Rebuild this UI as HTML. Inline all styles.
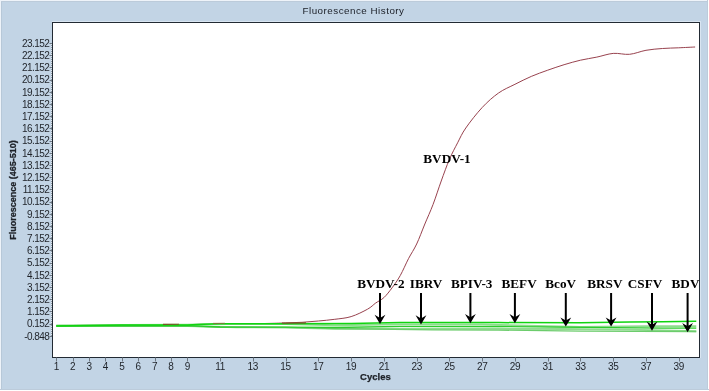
<!DOCTYPE html>
<html><head><meta charset="utf-8"><style>
html,body{margin:0;padding:0;background:#c2d4e5;}
body{width:709px;height:391px;overflow:hidden;}
svg{display:block;will-change:transform;}
text{font-family:"Liberation Sans",sans-serif;}
.ser{font-family:"Liberation Serif",serif;font-weight:bold;}
</style></head><body>
<svg width="709" height="391" viewBox="0 0 709 391">
<rect x="0" y="0" width="709" height="391" fill="#c2d4e5"/>
<rect x="0" y="0" width="709" height="1" fill="#eef3f9"/>
<rect x="0" y="0" width="1" height="391" fill="#eef3f9"/>
<rect x="1" y="1" width="1" height="388" fill="#b7c8d8"/>
<rect x="1" y="1" width="706" height="1" fill="#bccbda"/>
<rect x="707" y="0" width="1" height="391" fill="#bccbda"/>
<rect x="708" y="0" width="1" height="391" fill="#ffffff"/>
<rect x="0" y="389" width="709" height="1" fill="#bccbda"/>
<rect x="0" y="390" width="709" height="1" fill="#ffffff"/>
<text x="353.5" y="14.3" font-size="9.8" letter-spacing="0.5" text-anchor="middle" fill="#1a1e26">Fluorescence History</text>
<rect x="52" y="21" width="649" height="1" fill="#d9e5f1"/>
<rect x="700" y="21" width="1" height="337" fill="#d9e5f1"/>
<rect x="52.5" y="22.5" width="647" height="335" fill="#ffffff" stroke="#222a33" stroke-width="1"/>
<line x1="51.5" y1="43" x2="51.5" y2="336" stroke="#dfe7ef" stroke-width="1"/>
<line x1="51.5" y1="43" x2="51.5" y2="336" stroke="#8d99a5" stroke-width="1" stroke-dasharray="1 1"/>
<text x="49.3" y="46.70" font-size="10" letter-spacing="-0.55" text-anchor="end" fill="#1e2228">23.152</text>
<line x1="49.5" y1="43.5" x2="52" y2="43.5" stroke="#6d7782" stroke-width="1"/>
<text x="49.3" y="58.90" font-size="10" letter-spacing="-0.55" text-anchor="end" fill="#1e2228">22.152</text>
<line x1="49.5" y1="55.5" x2="52" y2="55.5" stroke="#6d7782" stroke-width="1"/>
<text x="49.3" y="71.10" font-size="10" letter-spacing="-0.55" text-anchor="end" fill="#1e2228">21.152</text>
<line x1="49.5" y1="67.5" x2="52" y2="67.5" stroke="#6d7782" stroke-width="1"/>
<text x="49.3" y="83.30" font-size="10" letter-spacing="-0.55" text-anchor="end" fill="#1e2228">20.152</text>
<line x1="49.5" y1="80.5" x2="52" y2="80.5" stroke="#6d7782" stroke-width="1"/>
<text x="49.3" y="95.50" font-size="10" letter-spacing="-0.55" text-anchor="end" fill="#1e2228">19.152</text>
<line x1="49.5" y1="92.5" x2="52" y2="92.5" stroke="#6d7782" stroke-width="1"/>
<text x="49.3" y="107.70" font-size="10" letter-spacing="-0.55" text-anchor="end" fill="#1e2228">18.152</text>
<line x1="49.5" y1="104.5" x2="52" y2="104.5" stroke="#6d7782" stroke-width="1"/>
<text x="49.3" y="119.90" font-size="10" letter-spacing="-0.55" text-anchor="end" fill="#1e2228">17.152</text>
<line x1="49.5" y1="116.5" x2="52" y2="116.5" stroke="#6d7782" stroke-width="1"/>
<text x="49.3" y="132.10" font-size="10" letter-spacing="-0.55" text-anchor="end" fill="#1e2228">16.152</text>
<line x1="49.5" y1="128.5" x2="52" y2="128.5" stroke="#6d7782" stroke-width="1"/>
<text x="49.3" y="144.30" font-size="10" letter-spacing="-0.55" text-anchor="end" fill="#1e2228">15.152</text>
<line x1="49.5" y1="141.5" x2="52" y2="141.5" stroke="#6d7782" stroke-width="1"/>
<text x="49.3" y="156.50" font-size="10" letter-spacing="-0.55" text-anchor="end" fill="#1e2228">14.152</text>
<line x1="49.5" y1="153.5" x2="52" y2="153.5" stroke="#6d7782" stroke-width="1"/>
<text x="49.3" y="168.70" font-size="10" letter-spacing="-0.55" text-anchor="end" fill="#1e2228">13.152</text>
<line x1="49.5" y1="165.5" x2="52" y2="165.5" stroke="#6d7782" stroke-width="1"/>
<text x="49.3" y="180.90" font-size="10" letter-spacing="-0.55" text-anchor="end" fill="#1e2228">12.152</text>
<line x1="49.5" y1="177.5" x2="52" y2="177.5" stroke="#6d7782" stroke-width="1"/>
<text x="49.3" y="193.10" font-size="10" letter-spacing="-0.55" text-anchor="end" fill="#1e2228">11.152</text>
<line x1="49.5" y1="189.5" x2="52" y2="189.5" stroke="#6d7782" stroke-width="1"/>
<text x="49.3" y="205.30" font-size="10" letter-spacing="-0.55" text-anchor="end" fill="#1e2228">10.152</text>
<line x1="49.5" y1="202.5" x2="52" y2="202.5" stroke="#6d7782" stroke-width="1"/>
<text x="49.3" y="217.50" font-size="10" letter-spacing="-0.55" text-anchor="end" fill="#1e2228">9.152</text>
<line x1="49.5" y1="214.5" x2="52" y2="214.5" stroke="#6d7782" stroke-width="1"/>
<text x="49.3" y="229.70" font-size="10" letter-spacing="-0.55" text-anchor="end" fill="#1e2228">8.152</text>
<line x1="49.5" y1="226.5" x2="52" y2="226.5" stroke="#6d7782" stroke-width="1"/>
<text x="49.3" y="241.90" font-size="10" letter-spacing="-0.55" text-anchor="end" fill="#1e2228">7.152</text>
<line x1="49.5" y1="238.5" x2="52" y2="238.5" stroke="#6d7782" stroke-width="1"/>
<text x="49.3" y="254.10" font-size="10" letter-spacing="-0.55" text-anchor="end" fill="#1e2228">6.152</text>
<line x1="49.5" y1="250.5" x2="52" y2="250.5" stroke="#6d7782" stroke-width="1"/>
<text x="49.3" y="266.30" font-size="10" letter-spacing="-0.55" text-anchor="end" fill="#1e2228">5.152</text>
<line x1="49.5" y1="263.5" x2="52" y2="263.5" stroke="#6d7782" stroke-width="1"/>
<text x="49.3" y="278.50" font-size="10" letter-spacing="-0.55" text-anchor="end" fill="#1e2228">4.152</text>
<line x1="49.5" y1="275.5" x2="52" y2="275.5" stroke="#6d7782" stroke-width="1"/>
<text x="49.3" y="290.70" font-size="10" letter-spacing="-0.55" text-anchor="end" fill="#1e2228">3.152</text>
<line x1="49.5" y1="287.5" x2="52" y2="287.5" stroke="#6d7782" stroke-width="1"/>
<text x="49.3" y="302.90" font-size="10" letter-spacing="-0.55" text-anchor="end" fill="#1e2228">2.152</text>
<line x1="49.5" y1="299.5" x2="52" y2="299.5" stroke="#6d7782" stroke-width="1"/>
<text x="49.3" y="315.10" font-size="10" letter-spacing="-0.55" text-anchor="end" fill="#1e2228">1.152</text>
<line x1="49.5" y1="311.5" x2="52" y2="311.5" stroke="#6d7782" stroke-width="1"/>
<text x="49.3" y="327.30" font-size="10" letter-spacing="-0.55" text-anchor="end" fill="#1e2228">0.152</text>
<line x1="49.5" y1="324.5" x2="52" y2="324.5" stroke="#6d7782" stroke-width="1"/>
<text x="49.3" y="339.50" font-size="10" letter-spacing="-0.55" text-anchor="end" fill="#1e2228">-0.848</text>
<line x1="49.5" y1="336.5" x2="52" y2="336.5" stroke="#6d7782" stroke-width="1"/>
<line x1="56.5" y1="357.5" x2="56.5" y2="361.5" stroke="#6d7782" stroke-width="1"/>
<text x="56.30" y="369.6" font-size="10" letter-spacing="-0.3" text-anchor="middle" fill="#1e2228">1</text>
<line x1="73.5" y1="357.5" x2="73.5" y2="361.5" stroke="#6d7782" stroke-width="1"/>
<text x="72.68" y="369.6" font-size="10" letter-spacing="-0.3" text-anchor="middle" fill="#1e2228">2</text>
<line x1="89.5" y1="357.5" x2="89.5" y2="361.5" stroke="#6d7782" stroke-width="1"/>
<text x="89.06" y="369.6" font-size="10" letter-spacing="-0.3" text-anchor="middle" fill="#1e2228">3</text>
<line x1="105.5" y1="357.5" x2="105.5" y2="361.5" stroke="#6d7782" stroke-width="1"/>
<text x="105.44" y="369.6" font-size="10" letter-spacing="-0.3" text-anchor="middle" fill="#1e2228">4</text>
<line x1="122.5" y1="357.5" x2="122.5" y2="361.5" stroke="#6d7782" stroke-width="1"/>
<text x="121.82" y="369.6" font-size="10" letter-spacing="-0.3" text-anchor="middle" fill="#1e2228">5</text>
<line x1="138.5" y1="357.5" x2="138.5" y2="361.5" stroke="#6d7782" stroke-width="1"/>
<text x="138.20" y="369.6" font-size="10" letter-spacing="-0.3" text-anchor="middle" fill="#1e2228">6</text>
<line x1="155.5" y1="357.5" x2="155.5" y2="361.5" stroke="#6d7782" stroke-width="1"/>
<text x="154.58" y="369.6" font-size="10" letter-spacing="-0.3" text-anchor="middle" fill="#1e2228">7</text>
<line x1="171.5" y1="357.5" x2="171.5" y2="361.5" stroke="#6d7782" stroke-width="1"/>
<text x="170.96" y="369.6" font-size="10" letter-spacing="-0.3" text-anchor="middle" fill="#1e2228">8</text>
<line x1="187.5" y1="357.5" x2="187.5" y2="361.5" stroke="#6d7782" stroke-width="1"/>
<text x="187.34" y="369.6" font-size="10" letter-spacing="-0.3" text-anchor="middle" fill="#1e2228">9</text>
<line x1="220.5" y1="357.5" x2="220.5" y2="361.5" stroke="#6d7782" stroke-width="1"/>
<text x="220.10" y="369.6" font-size="10" letter-spacing="-0.3" text-anchor="middle" fill="#1e2228">11</text>
<line x1="253.5" y1="357.5" x2="253.5" y2="361.5" stroke="#6d7782" stroke-width="1"/>
<text x="252.86" y="369.6" font-size="10" letter-spacing="-0.3" text-anchor="middle" fill="#1e2228">13</text>
<line x1="286.5" y1="357.5" x2="286.5" y2="361.5" stroke="#6d7782" stroke-width="1"/>
<text x="285.62" y="369.6" font-size="10" letter-spacing="-0.3" text-anchor="middle" fill="#1e2228">15</text>
<line x1="318.5" y1="357.5" x2="318.5" y2="361.5" stroke="#6d7782" stroke-width="1"/>
<text x="318.38" y="369.6" font-size="10" letter-spacing="-0.3" text-anchor="middle" fill="#1e2228">17</text>
<line x1="351.5" y1="357.5" x2="351.5" y2="361.5" stroke="#6d7782" stroke-width="1"/>
<text x="351.14" y="369.6" font-size="10" letter-spacing="-0.3" text-anchor="middle" fill="#1e2228">19</text>
<line x1="384.5" y1="357.5" x2="384.5" y2="361.5" stroke="#6d7782" stroke-width="1"/>
<text x="383.90" y="369.6" font-size="10" letter-spacing="-0.3" text-anchor="middle" fill="#1e2228">21</text>
<line x1="417.5" y1="357.5" x2="417.5" y2="361.5" stroke="#6d7782" stroke-width="1"/>
<text x="416.66" y="369.6" font-size="10" letter-spacing="-0.3" text-anchor="middle" fill="#1e2228">23</text>
<line x1="449.5" y1="357.5" x2="449.5" y2="361.5" stroke="#6d7782" stroke-width="1"/>
<text x="449.42" y="369.6" font-size="10" letter-spacing="-0.3" text-anchor="middle" fill="#1e2228">25</text>
<line x1="482.5" y1="357.5" x2="482.5" y2="361.5" stroke="#6d7782" stroke-width="1"/>
<text x="482.18" y="369.6" font-size="10" letter-spacing="-0.3" text-anchor="middle" fill="#1e2228">27</text>
<line x1="515.5" y1="357.5" x2="515.5" y2="361.5" stroke="#6d7782" stroke-width="1"/>
<text x="514.94" y="369.6" font-size="10" letter-spacing="-0.3" text-anchor="middle" fill="#1e2228">29</text>
<line x1="548.5" y1="357.5" x2="548.5" y2="361.5" stroke="#6d7782" stroke-width="1"/>
<text x="547.70" y="369.6" font-size="10" letter-spacing="-0.3" text-anchor="middle" fill="#1e2228">31</text>
<line x1="580.5" y1="357.5" x2="580.5" y2="361.5" stroke="#6d7782" stroke-width="1"/>
<text x="580.46" y="369.6" font-size="10" letter-spacing="-0.3" text-anchor="middle" fill="#1e2228">33</text>
<line x1="613.5" y1="357.5" x2="613.5" y2="361.5" stroke="#6d7782" stroke-width="1"/>
<text x="613.22" y="369.6" font-size="10" letter-spacing="-0.3" text-anchor="middle" fill="#1e2228">35</text>
<line x1="646.5" y1="357.5" x2="646.5" y2="361.5" stroke="#6d7782" stroke-width="1"/>
<text x="645.98" y="369.6" font-size="10" letter-spacing="-0.3" text-anchor="middle" fill="#1e2228">37</text>
<line x1="679.5" y1="357.5" x2="679.5" y2="361.5" stroke="#6d7782" stroke-width="1"/>
<text x="678.74" y="369.6" font-size="10" letter-spacing="-0.3" text-anchor="middle" fill="#1e2228">39</text>
<text x="375.4" y="379.7" font-size="9.5" font-weight="bold" text-anchor="middle" fill="#1e2228" stroke="#1e2228" stroke-width="0.25">Cycles</text>
<text transform="translate(16.4,190) rotate(-90)" font-size="9" font-weight="bold" text-anchor="middle" fill="#1e2228" stroke="#1e2228" stroke-width="0.3">Fluorescence (465-510)</text>
<path d="M56.30,325.60 C61.76,325.57 78.14,325.47 89.06,325.40 C99.98,325.33 110.90,325.28 121.82,325.20 C132.74,325.12 146.39,325.02 154.58,324.90 C162.77,324.78 165.50,324.55 170.96,324.50 C176.42,324.45 181.88,324.63 187.34,324.60 C192.80,324.57 195.53,324.40 203.72,324.30 C211.91,324.20 225.56,324.15 236.48,324.00 C247.40,323.85 261.05,323.58 269.24,323.40 C277.43,323.22 280.16,323.08 285.62,322.90 C291.08,322.72 296.54,322.62 302.00,322.30 C307.46,321.98 312.92,321.50 318.38,321.00 C323.84,320.50 329.30,320.03 334.76,319.30 C340.22,318.57 345.68,318.28 351.14,316.60 C356.60,314.92 363.42,311.47 367.52,309.20 C371.62,306.93 372.98,304.93 375.71,303.00 C378.44,301.07 381.17,300.13 383.90,297.60 C386.63,295.07 389.36,291.48 392.09,287.80 C394.82,284.12 397.55,280.35 400.28,275.50 C403.01,270.65 405.74,263.95 408.47,258.70 C411.20,253.45 413.93,249.78 416.66,244.00 C419.39,238.22 422.12,230.58 424.85,224.00 C427.58,217.42 430.31,211.67 433.04,204.50 C435.77,197.33 438.50,188.52 441.23,181.00 C443.96,173.48 446.69,165.77 449.42,159.40 C452.15,153.03 454.88,148.03 457.61,142.80 C460.34,137.57 461.71,133.88 465.80,128.00 C469.89,122.12 476.72,113.33 482.18,107.50 C487.64,101.67 493.10,96.87 498.56,93.00 C504.02,89.13 509.48,87.07 514.94,84.30 C520.40,81.53 525.86,78.75 531.32,76.40 C536.78,74.05 542.24,72.15 547.70,70.20 C553.16,68.25 558.62,66.37 564.08,64.70 C569.54,63.03 575.00,61.47 580.46,60.20 C585.92,58.93 591.38,58.23 596.84,57.10 C602.30,55.97 607.76,53.87 613.22,53.40 C618.68,52.93 624.14,54.82 629.60,54.30 C635.06,53.78 640.52,51.27 645.98,50.30 C651.44,49.33 656.90,48.92 662.36,48.50 C667.82,48.08 673.28,48.05 678.74,47.80 C684.20,47.55 692.39,47.13 695.12,47.00" fill="none" stroke="#98424e" stroke-width="1.0"/>
<polyline points="56.30,325.40 121.82,325.00 187.34,324.60 220.10,323.90 285.62,324.00 334.76,325.20 400.28,324.40 482.18,324.40 547.70,326.20 580.46,327.00 645.98,326.30 696.27,326.30" fill="none" stroke="#8edc8e" stroke-width="1.9" stroke-linejoin="round" opacity="1"/>
<polyline points="56.30,326.00 121.82,326.00 187.34,326.00 236.48,327.30 285.62,327.60 334.76,328.70 400.28,328.80 498.56,328.80 564.08,329.00 629.60,329.60 696.27,331.30" fill="none" stroke="#8edc8e" stroke-width="1.9" stroke-linejoin="round" opacity="1"/>
<polyline points="56.30,326.20 121.82,326.10 187.34,326.20 220.10,327.10 285.62,327.30 334.76,328.50 433.04,329.90 498.56,330.10 580.46,331.10 696.27,331.50" fill="none" stroke="#6ccc6c" stroke-width="1.3" stroke-linejoin="round" opacity="1"/>
<polyline points="56.30,325.90 121.82,325.80 187.34,325.60 220.10,327.00 285.62,327.10 334.76,327.50 400.28,326.30 498.56,326.50 564.08,327.10 662.36,328.10 696.27,328.20" fill="none" stroke="#2ccc2c" stroke-width="1.3" stroke-linejoin="round" opacity="1"/>
<polyline points="56.30,325.90 89.06,325.50 121.82,325.00 187.34,324.90 203.72,324.20 220.10,323.70 285.62,323.70 351.14,323.40 400.28,322.60 498.56,322.60 580.46,322.80 629.60,322.00 662.36,321.70 696.27,321.20" fill="none" stroke="#10d410" stroke-width="1.5" stroke-linejoin="round" opacity="1"/>
<line x1="163" y1="324.4" x2="179" y2="324.3" stroke="#7a5428" stroke-width="1.1"/>
<line x1="282" y1="323.1" x2="306" y2="322.9" stroke="#7a5428" stroke-width="1.1"/>
<line x1="213" y1="323.4" x2="225" y2="323.3" stroke="#7f7a38" stroke-width="1.0"/>
<line x1="380.0" y1="293" x2="380.0" y2="320.0" stroke="#000" stroke-width="2"/>
<path d="M380.0,324.0 L374.6,314.8 L380.0,318.0 L385.4,314.8 Z" fill="#000"/>
<line x1="421.0" y1="293" x2="421.0" y2="320.4" stroke="#000" stroke-width="2"/>
<path d="M421.0,324.4 L415.6,315.2 L421.0,318.4 L426.4,315.2 Z" fill="#000"/>
<line x1="470.4" y1="293" x2="470.4" y2="319.2" stroke="#000" stroke-width="2"/>
<path d="M470.4,323.2 L465.0,314.0 L470.4,317.2 L475.8,314.0 Z" fill="#000"/>
<line x1="514.9" y1="293" x2="514.9" y2="319.2" stroke="#000" stroke-width="2"/>
<path d="M514.9,323.2 L509.5,314.0 L514.9,317.2 L520.3,314.0 Z" fill="#000"/>
<line x1="565.8" y1="293" x2="565.8" y2="322.6" stroke="#000" stroke-width="2"/>
<path d="M565.8,326.6 L560.4,317.4 L565.8,320.6 L571.2,317.4 Z" fill="#000"/>
<line x1="611.1" y1="293" x2="611.1" y2="322.6" stroke="#000" stroke-width="2"/>
<path d="M611.1,326.6 L605.7,317.4 L611.1,320.6 L616.5,317.4 Z" fill="#000"/>
<line x1="652.0" y1="293" x2="652.0" y2="326.8" stroke="#000" stroke-width="2"/>
<path d="M652.0,330.8 L646.6,321.6 L652.0,324.8 L657.4,321.6 Z" fill="#000"/>
<line x1="687.6" y1="293" x2="687.6" y2="328.3" stroke="#000" stroke-width="2"/>
<path d="M687.6,332.3 L682.2,323.1 L687.6,326.3 L693.0,323.1 Z" fill="#000"/>
<text class="ser" x="380.9" y="287.8" font-size="13.2" text-anchor="middle" fill="#000">BVDV-2</text>
<text class="ser" x="426.1" y="287.8" font-size="13.2" text-anchor="middle" fill="#000">IBRV</text>
<text class="ser" x="471.7" y="287.8" font-size="13.2" text-anchor="middle" fill="#000">BPIV-3</text>
<text class="ser" x="519.1" y="287.8" font-size="13.2" text-anchor="middle" fill="#000">BEFV</text>
<text class="ser" x="560.7" y="287.8" font-size="13.2" text-anchor="middle" fill="#000">BcoV</text>
<text class="ser" x="604.9" y="287.8" font-size="13.2" text-anchor="middle" fill="#000">BRSV</text>
<text class="ser" x="645.0" y="287.8" font-size="13.2" text-anchor="middle" fill="#000">CSFV</text>
<text class="ser" x="685.5" y="287.8" font-size="13.2" text-anchor="middle" fill="#000">BDV</text>
<text class="ser" x="447" y="162.7" font-size="13.2" text-anchor="middle" fill="#000">BVDV-1</text>
</svg>
</body></html>
